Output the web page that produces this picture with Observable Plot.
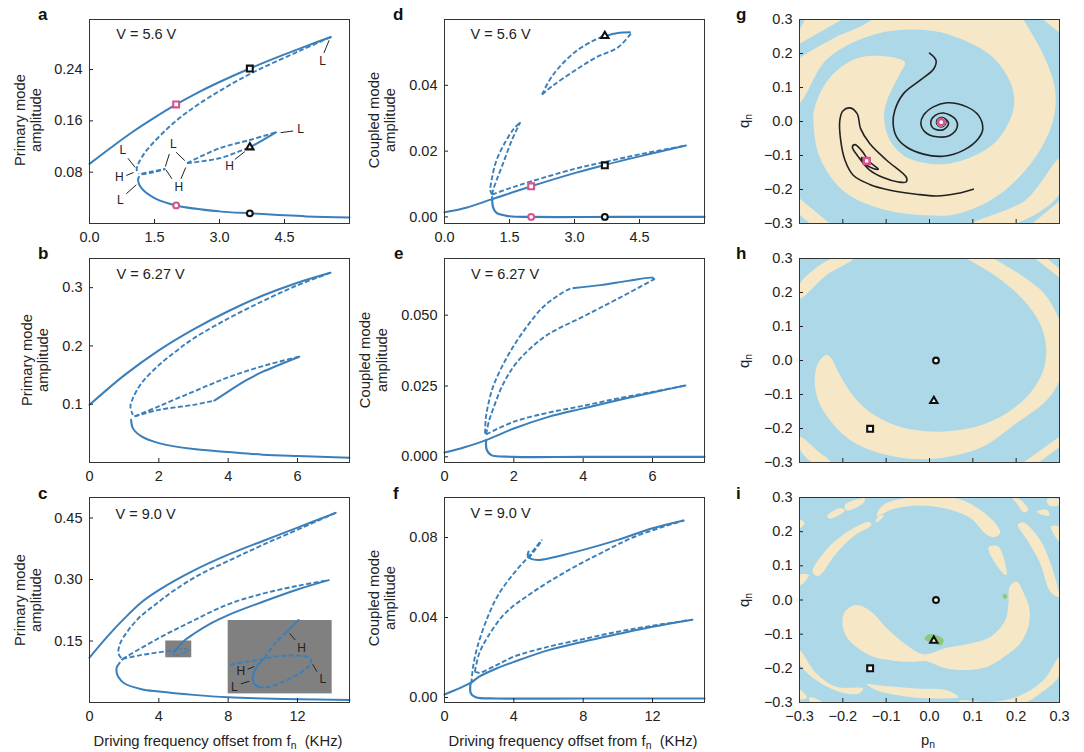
<!DOCTYPE html>
<html><head><meta charset="utf-8">
<script src="https://cdn.jsdelivr.net/npm/d3@7"></script>
<script src="https://cdn.jsdelivr.net/npm/@observablehq/plot@0.6"></script>
<style>
html,body{margin:0;padding:0;background:#fff}
#page{position:relative;width:1084px;height:752px;overflow:hidden;font-family:"Liberation Sans",Arial,sans-serif;color:#222}
#page svg{position:absolute;background:transparent;overflow:visible}
.t{position:absolute;white-space:nowrap;font-size:14.8px;line-height:15px;transform:translate(-50%,-50%)}
.r{transform:translate(-50%,-50%) rotate(-90deg)}
.b{font-weight:700;font-size:17px;color:#111;transform:translate(0,-50%)}
.t sub{font-size:70%;line-height:0;vertical-align:-0.3em}
</style></head><body><div id="page"></div>
<script>
// ---------- panel a ----------
const aUpper=[[0,.093],[.5,.1185],[1,.143],[1.5,.165],[2,.1856],[2.5,.2041],[3,.2206],[3.7,.2416],[4.5,.2636],[5,.2765],[5.57,.2907]];
const aUpperDash=[[5.57,.2907],[4.87,.2697],[4.1,.2462],[3.7,.233],[3.33,.2195],[2.71,.1945],[2.4,.1805],[2.136,.1675],[1.79,.1475],[1.326,.1147],[1.133,.094],[1.09,.0836],[1.14,.0775]];
const aMidDash1=[[1.2,.0765],[1.45,.0795],[1.75,.0847]];
const aMidDash2=[[1.2,.0775],[1.45,.081],[1.75,.0855]];
const aLoopTop=[[2.25,.094],[3,.1173],[3.7,.1302],[4.3,.142]];
const aLoopLow=[[2.25,.094],[3,.1017],[3.5,.1136],[3.7,.1188]];
const aLoopSolid=[[3.7,.1188],[4,.13],[4.3,.142]];
const aLower=[[1.14,.0725],[1.12,.0675],[1.2,.055],[1.5,.0396],[2,.0282],[3,.0189],[3.7,.0158],[5,.0111],[6,.0095]];
const aLeaders=[[.887,.1017,1.056,.0872],[.848,.0748,1.018,.0795],[.848,.0463,1.08,.0603],[1.843,.1085,1.75,.0888],[2,.111,2.2,.098],[1.765,.0836,1.904,.0696],[2.22,.0872,2.11,.0696],[3.354,.1,3.585,.112],[4.41,.1416,4.7,.1442],[5.41,.2659,5.53,.2856]];
const aTags=[["L",.77,.1147],["H",.69,.0722],["L",.71,.037],["L",1.935,.1235],["H",2.06,.0567],["H",3.23,.0898],["L",4.87,.1468],["L",5.38,.2524]];
// ---------- panel d ----------
const dLow=[[1.1,.006],[1.12,.003],[1.2,.0012],[1.5,.0002],[2,0],[4,0],[6,0]];
const dSolid=[[0,.0014],[.5,.0028],[1.1,.0054],[2,.0093],[3,.0133],[3.7,.0158],[4.5,.0184],[5.57,.0217]];
const dDash=[[1.1,.0068],[1.5,.0087],[2,.0108],[3,.0146],[3.7,.0167],[4.5,.019],[5.57,.0217]];
const dLoop1L=[[1.1,.0068],[1.06,.0081],[1.1,.0121],[1.2,.0172],[1.4,.0227],[1.6,.0268],[1.75,.0288]];
const dLoop1R=[[1.1,.0068],[1.12,.0081],[1.2,.0111],[1.35,.0162],[1.55,.0232],[1.75,.0288]];
const dLoop2T=[[2.25,.0372],[2.5,.0431],[3,.05],[3.5,.054],[3.7,.055]];
const dLoop2S=[[3.7,.055],[4,.0559],[4.28,.0561]];
const dLoop2L=[[2.25,.0372],[2.5,.0399],[3,.0444],[3.5,.0485],[4,.0515],[4.3,.0557]];
// ---------- panel b ----------
const bUpper=[[0,.0989],[1,.1495],[2,.1925],[3,.2285],[4,.2595],[5,.2865],[6,.3085],[6.95,.3256]];
const bUpperDash=[[6.95,.3256],[6,.304],[5,.277],[4,.247],[3,.2128],[2.5,.191],[2,.167],[1.5,.136],[1.25,.11],[1.18,.096],[1.25,.0818]];
const bMidTop=[[1.3,.079],[2,.0965],[3,.1217],[4,.146],[5,.1655],[6.05,.1815]];
const bMidLow=[[1.3,.079],[2,.0903],[3,.0989],[3.6,.1063]];
const bMidSolid=[[3.6,.1063],[4,.1217],[4.5,.1404],[5,.1558],[6.05,.1815]];
const bLower=[[1.2,.0732],[1.25,.059],[1.5,.0447],[2,.0333],[3,.023],[4,.018],[5,.0134],[6,.011],[7.5,.0083]];
// ---------- panel e ----------
const eLow=[[1.2,.0059],[1.22,.0024],[1.35,.0006],[2,0],[4,0],[7.5,0]];
const eSolid=[[0,.0015],[.6,.0035],[1.2,.0059],[2,.01],[3,.0141],[4,.0171],[5,.02],[6,.0227],[6.95,.0252]];
const eDash=[[1.2,.0079],[2,.0124],[3,.0156],[4,.018],[5,.0206],[6,.0229],[6.95,.0252]];
const eOuter=[[1.17,.0082],[1.19,.0135],[1.25,.0178],[1.4,.0247],[1.8,.0351],[2.3,.0447],[2.9,.0535],[3.6,.0592],[3.75,.0596]];
const eOuterSolid=[[3.75,.0596],[4.5,.0606],[5.3,.0621],[6,.0632],[6.05,.0627]];
const eInner=[[1.2,.0079],[1.28,.0125],[1.4,.0168],[1.7,.0259],[2.1,.0335],[2.9,.0425],[4,.0495],[5,.0558],[6.05,.0627]];
// ---------- panel c ----------
const cUpper=[[0,.1095],[1,.1595],[2,.2045],[3,.2445],[4,.2741],[6,.3215],[8,.3605],[10,.394],[12,.4265],[14.2,.4625]];
const cUpperDash=[[14.2,.4625],[12,.4215],[10,.3845],[8.3,.351],[6.38,.3125],[4.85,.2725],[3.88,.2416],[2.92,.209],[2.25,.1768],[1.77,.1443],[1.67,.12],[1.87,.1062]];
const cMidTop=[[1.9,.1062],[4,.157],[6,.2],[8,.2395],[10,.2655],[12,.2845],[13.8,.2984]];
const cMidSolid=[[4.9,.124],[5.4,.1484],[6,.167],[7,.193],[8,.2133],[10,.2457],[12,.2757],[13.8,.2984]];
const cMidLow=[[1.9,.1062],[3,.116],[4,.1224],[5,.128]];
const cLoop=[[5,.128],[5.23,.1305],[5.71,.1297],[5.33,.1184],[4.96,.1143],[4.79,.12],[4.9,.124]];
const cLower=[[1.6,.0885],[1.55,.0794],[1.65,.0632],[2,.047],[3,.0324],[4,.0267],[6,.0186],[8,.0129],[12,.008],[15,.0064]];
const cFoldDash=[[1.6,.0885],[1.9,.1062]];
const cSmallBox=[[4.4,.109,5.9,.15]];
const cInsetBox=[[8,.021,14,.2]];
const cInSolid1=[[12.06,.2011],[11.38,.1727]];
const cInDash1=[[11.38,.1727],[10.71,.1443],[10.04,.1062]];
const cInSolid2=[[10.04,.1062],[9.65,.0876],[9.42,.0592],[9.5,.0454],[9.75,.0381]];
const cInDash2=[[9.75,.0381],[10.13,.0365],[11,.047],[11.96,.0673],[12.63,.0876],[12.79,.1013],[12.63,.1103],[11.96,.1143],[11,.1135],[10.04,.1062],[8.88,.0981],[7.98,.0916]];
const cLeaders=[[11.54,.1687,11.87,.1524],[12.87,.0932,13.12,.0754],[9.12,.0811,9.5,.0876],[8.73,.0454,9.23,.0519]];
const cTags=[["H",12.23,.1322],["L",13.46,.0575],["H",8.73,.0762],["L",8.35,.0373]];
// ---------- panel f ----------
const fLow=[[1.5,.007],[1.52,.002],[1.8,.0001],[3,-.0005],[8,-.0005],[15,-.0005]];
const fSolid=[[0,.0015],[1.5,.0073],[2,.0104],[3,.0145],[4,.0178],[6,.0237],[8,.0279],[10,.0317],[12,.0354],[14.3,.0389]];
const fDash=[[1.75,.0129],[2,.0124],[3,.0162],[4,.0204],[6,.0254],[8,.0292],[10,.0329],[12,.0359],[14.3,.0389]];
const fOuter=[[1.55,.007],[1.65,.0154],[1.9,.0254],[2.5,.0404],[3.1,.0513],[4,.0621],[4.85,.0705],[5.6,.0788]];
const fInner=[[1.75,.0129],[2,.022],[2.5,.0304],[3.5,.0421],[5,.0521],[7,.0629],[9,.0721],[11,.0805],[13.8,.0885]];
const fTop=[[13.8,.0885],[12,.0846],[10,.0788],[8,.0738],[6.5,.0705],[5.5,.0688],[5,.0693],[4.8,.0708],[4.85,.073]];
const fTip=[[4.85,.0696],[5.2,.0735],[5.65,.0788]];
// ---------- panel g ----------
const gSpiralTan=[[-.057,.174],[-.098,.191],[-.168,.185],[-.23,.129],[-.265,.041],[-.267,-.018],[-.253,-.106],[-.2,-.203],[-.114,-.256],[-.01,-.276],[.066,-.271],[.158,-.218],[.244,-.106],[.285,.003],[.29,.091],[.269,.179],[.216,.3],[.174,.371],[0,.415],[-.091,.379],[-.133,.3],[-.218,.247],[-.299,.188],[-.345,.15],[-.345,.003],[-.299,.053],[-.235,.185],[-.119,.259],[.001,.268],[.07,.244],[.147,.188],[.191,.1],[.193,.032],[.156,-.056],[.094,-.106],[.024,-.126],[-.052,-.106],[-.091,-.056],[-.105,.012],[-.098,.062],[-.068,.141]];
const gCornerTL=[[-.3,.268],[-.288,.3],[-.202,.3],[-.3,.229]];
const gCornerTR=[[.262,.3],[.302,.259],[.302,.3]];
const gBandBR=[[.302,-.109],[.221,-.232],[.101,-.3],[.198,-.3],[.302,-.209]];
const gCornerBR=[[.302,-.232],[.237,-.3],[.302,-.3]];
const gBandBL=[[-.302,-.224],[-.23,-.3],[-.276,-.3],[-.302,-.271]];
const gSpiral1=[[0,.201],[.015,.18],[.01,.155],[-.022,.121],[-.06,.082],[-.08,.033],[-.084,-.006],[-.076,-.045],[-.053,-.075],[-.014,-.096],[.032,-.102],[.078,-.085],[.113,-.05],[.123,-.021],[.113,.018],[.086,.043],[.04,.055],[.009,.043],[-.014,.018],[-.02,-.006],[-.01,-.031],[.017,-.045],[.047,-.041],[.064,-.016],[.059,.008],[.032,.025],[.013,.018],[.003,-.001],[.01,-.021],[.032,-.024],[.044,-.006],[.032,.011],[.018,.005],[.018,-.008],[.027,-.009],[.027,-.002]];
const gSpiral2=[[.101,-.199],[.063,-.212],[.017,-.219],[-.03,-.214],[-.091,-.202],[-.138,-.185],[-.176,-.158],[-.195,-.114],[-.205,-.055],[-.207,.003],[-.2,.031],[-.184,.04],[-.167,.023],[-.159,-.021],[-.138,-.065],[-.099,-.114],[-.053,-.165],[-.054,-.178],[-.072,-.178],[-.107,-.165],[-.138,-.143],[-.164,-.104],[-.178,-.075],[-.172,-.068],[-.157,-.085],[-.138,-.119],[-.118,-.14],[-.13,-.138],[-.149,-.124],[-.157,-.106],[-.145,-.114]];
// ---------- panel h ----------
const hCrescent=[[-.238,.016],[-.257,-.008],[-.265,-.057],[-.257,-.116],[-.23,-.175],[-.184,-.233],[-.114,-.273],[-.03,-.29],[.047,-.282],[.124,-.253],[.201,-.184],[.271,-.116],[.3,-.057],[.309,.011],[.309,.08],[.271,.187],[.217,.246],[.148,.3],[.109,.33],[.047,.33],[.086,.3],[.155,.246],[.217,.178],[.255,.109],[.269,.041],[.263,-.028],[.232,-.096],[.178,-.155],[.109,-.194],[.032,-.209],[-.037,-.204],[-.099,-.18],[-.153,-.136],[-.191,-.077],[-.215,-.023],[-.226,.006]];
const hTL=[[-.3,.222],[-.268,.266],[-.222,.3],[-.176,.3],[-.238,.251],[-.3,.182]];
const hTR=[[.244,.3],[.3,.244],[.3,.27],[.271,.3]];
const hBR=[[.3,-.224],[.217,-.3],[.252,-.3],[.3,-.255]];
const hBL=[[-.3,-.224],[-.261,-.263],[-.228,-.3],[-.269,-.3],[-.3,-.258]];
// ---------- panel i ----------
const iCrescent=[[-.172,-.015],[-.195,-.034],[-.201,-.068],[-.191,-.108],[-.164,-.142],[-.13,-.166],[-.091,-.176],[-.045,-.181],[-.007,-.179],[.032,-.198],[.078,-.205],[.132,-.196],[.178,-.161],[.209,-.127],[.228,-.078],[.231,-.029],[.221,.01],[.201,.054],[.185,.039],[.182,-.01],[.175,-.059],[.14,-.108],[.094,-.127],[.04,-.14],[-.014,-.159],[-.053,-.132],[-.099,-.083],[-.13,-.039],[-.153,-.02]];
const iTopArc=[[-.121,.245],[-.117,.264],[-.099,.284],[-.06,.297],[.009,.301],[.07,.295],[.117,.264],[.155,.22],[.163,.196],[.151,.184],[.132,.191],[.094,.24],[.032,.269],[-.037,.276],[-.084,.266],[-.111,.25]];
const iLeftArc=[[-.27,.083],[-.238,.147],[-.199,.191],[-.141,.228],[-.134,.22],[-.176,.186],[-.215,.137],[-.257,.07]];
const iRightArc=[[.204,.22],[.217,.227],[.255,.176],[.279,.108],[.3,.015],[.3,.008],[.279,.024],[.255,.108],[.225,.176]];
const iMidArc=[[.136,.154],[.158,.157],[.178,.088],[.177,.073],[.163,.088]];
const iBotLeft=[[-.3,-.147],[-.261,-.215],[-.215,-.254],[-.153,-.259],[-.164,-.274],[-.207,-.269],[-.261,-.235],[-.3,-.186]];
const iBotMid=[[-.144,-.247],[-.115,-.25],[-.03,-.259],[.04,-.264],[.067,-.284],[.04,-.288],[-.045,-.284],[-.122,-.264]];
const iBotRight=[[.3,-.166],[.263,-.235],[.201,-.284],[.14,-.298],[.07,-.295],[.07,-.301],[.217,-.301],[.255,-.274],[.3,-.22]];
const iBits=[
 [[-.124,.228],[-.118,.245],[-.105,.247],[-.118,.23]],
 [[-.236,.245],[-.207,.269],[-.195,.262],[-.23,.238]],
 [[-.195,.279],[-.149,.298],[-.153,.284],[-.191,.262]],
 [[-.3,.235],[-.288,.225],[-.3,.21]],
 [[-.3,.073],[-.278,.073],[-.3,.041]],
 [[.19,.301],[.209,.294],[.228,.264],[.218,.256],[.201,.284]],
 [[.248,.259],[.271,.264],[.277,.247],[.255,.252]],
 [[.271,.294],[.3,.294],[.3,.279],[.277,.276]],
 [[.28,.215],[.3,.215],[.3,.171]],
 [[-.3,-.262],[-.283,-.285],[-.3,-.29]],
 [[-.276,-.284],[-.249,-.298],[-.276,-.298]]
];
const iGreen1=[[-.012,-.113],[0,-.1],[.032,-.115],[.028,-.132],[.009,-.127],[-.007,-.119]];
const iGreen2=[[.171,.018],[.18,.012],[.174,.003],[.169,.01]];
// ---------- styles and helpers ----------
const PINK="#D2568E", BLUE="#3A7FBA", BLUEBG="#ADD8E8", TAN="#F6E8C6", GREEN="#8CC878", GREY="#808080", DARK="#222";
const ap=d=>d[0], bp=d=>d[1];
const solid=(p,o={})=>Plot.line(p,{x:ap,y:bp,stroke:BLUE,strokeWidth:2,curve:"catmull-rom",...o});
const dash=(p,o={})=>Plot.line(p,{x:ap,y:bp,stroke:BLUE,strokeWidth:1.9,strokeLinecap:"butt",strokeDasharray:"5,2.4",curve:"catmull-rom",...o});
const poly=(p,fill,curve="catmull-rom-closed")=>Plot.line(p,{x:ap,y:bp,fill,stroke:"none",curve,clip:true});
const RADII={square:3.3,circle:2.9,triangle:2.7};
const mark=(x,y,symbol,stroke,r=RADII[symbol],sw=2.1)=>Plot.dot([[x,y]],{x:ap,y:bp,symbol,r,fill:"#fff",stroke,strokeWidth:sw});
const leaders=l=>Plot.link(l,{x1:d=>d[0],y1:d=>d[1],x2:d=>d[2],y2:d=>d[3],stroke:DARK,strokeWidth:1});
const tags=t=>Plot.text(t,{x:d=>d[1],y:d=>d[2],text:d=>d[0],fontSize:12,fill:DARK});
const vlabel=(s,x,y)=>Plot.text([s],{x:()=>x,y:()=>y,text:d=>d,textAnchor:"start",fontSize:14.5,fill:DARK});
const page=document.getElementById("page");
function panel(left,top,h,xd,yd,xt,yt,fx,fy,marks){
  const mL=60,mT=4,mR=16,mB=30,w=260;
  const svg=Plot.plot({width:mL+w+mR,height:mT+h+mB,marginLeft:mL,marginRight:mR,marginTop:mT,marginBottom:mB,
    style:{fontFamily:"'Liberation Sans',Arial,sans-serif",fontSize:"14.5px",color:DARK,background:"transparent",overflow:"visible"},
    x:{domain:xd},y:{domain:yd},
    marks:[...marks,
      Plot.axisX({ticks:xt,tickFormat:fx,tickSize:-4,tickPadding:12,label:null,anchor:"bottom",stroke:DARK}),
      Plot.axisY({ticks:yt,tickFormat:fy,tickSize:-4,tickPadding:11,label:null,anchor:"left",stroke:DARK}),
      Plot.frame({stroke:"#333",strokeWidth:1})]});
  svg.style.left=(left-mL)+"px";svg.style.top=(top-mT)+"px";svg.style.maxWidth="none";svg.style.height=(mT+h+mB)+"px";
  page.appendChild(svg);
}
const f0=d3.format("d"),f1=d3.format(".1f"),f2=d3.format(".2f"),f3=d3.format(".3f");
const none=()=>"";
const X=[0,1.5,3,4.5],R1=[19,258,497],Hh=[204,204,205],C=[89,444,799];
const PQ=[-.3,-.2,-.1,0,.1,.2,.3];
// a
panel(C[0],R1[0],Hh[0],[0,6],[0,.318],X,[.08,.16,.24],f1,f2,[
  solid(aUpper),dash(aUpperDash),dash(aMidDash1),dash(aMidDash2),dash(aLoopTop),dash(aLoopLow),solid(aLoopSolid),solid(aLower),
  leaders(aLeaders),tags(aTags),vlabel("V = 5.6 V",.617,.2944),
  mark(3.7,.2416,"square","#111"),mark(2,.1856,"square",PINK),mark(3.7,.1188,"triangle","#111"),mark(3.7,.0158,"circle","#111"),mark(2,.0282,"circle",PINK)]);
// d
panel(C[1],R1[0],Hh[0],[0,6],[-.002,.06],X,[0,.02,.04],f1,f2,[
  solid(dLow,{strokeWidth:2.2}),solid(dSolid),dash(dDash),dash(dLoop1L),dash(dLoop1R),dash(dLoop2T),solid(dLoop2S),dash(dLoop2L),
  vlabel("V = 5.6 V",.6,.0555),
  mark(3.7,.0157,"square","#111"),mark(2,.0093,"square",PINK),mark(3.7,.055,"triangle","#111"),mark(3.7,0,"circle","#111"),mark(2,0,"circle",PINK)]);
// g
panel(C[2],R1[0],Hh[0],[-.3,.3],[-.3,.3],PQ,PQ,none,f1,[
  Plot.frame({fill:BLUEBG,stroke:"none"}),poly(gSpiralTan,TAN),
  poly(gCornerTL,TAN,"linear-closed"),poly(gCornerTR,TAN,"linear-closed"),poly(gBandBR,TAN),poly(gCornerBR,TAN,"linear-closed"),poly(gBandBL,TAN,"linear-closed"),
  Plot.line(gSpiral1,{x:ap,y:bp,stroke:"#222",strokeWidth:1.6,curve:"catmull-rom"}),
  Plot.line(gSpiral2,{x:ap,y:bp,stroke:"#222",strokeWidth:1.6,curve:"catmull-rom"}),
  mark(.027,-.002,"circle","#222",5,1),mark(.027,-.002,"circle",PINK,3.2,2.6),
  mark(-.145,-.116,"square",PINK,3.3,2.6)]);
// b
panel(C[0],R1[1],Hh[1],[0,7.5],[0,.35],[0,2,4,6],[.1,.2,.3],f0,f1,[
  solid(bUpper),dash(bUpperDash),dash(bMidTop),dash(bMidLow),solid(bMidSolid),solid(bLower),vlabel("V = 6.27 V",.78,.3226)]);
// e
panel(C[1],R1[1],Hh[1],[0,7.5],[-.002,.07],[0,2,4,6],[0,.025,.05],f0,f3,[
  solid(eLow,{strokeWidth:2.2}),solid(eSolid),dash(eDash),dash(eOuter),solid(eOuterSolid),dash(eInner),vlabel("V = 6.27 V",.763,.0645)]);
// h
panel(C[2],R1[1],Hh[1],[-.3,.3],[-.3,.3],PQ,PQ,none,f1,[
  Plot.frame({fill:BLUEBG,stroke:"none"}),poly(hCrescent,TAN),poly(hTL,TAN),poly(hTR,TAN,"linear-closed"),poly(hBR,TAN,"linear-closed"),poly(hBL,TAN),
  mark(.015,0,"circle","#111"),mark(.01,-.119,"triangle","#111"),mark(-.137,-.201,"square","#111")]);
// c
const rect=(r,fill)=>Plot.rect(r,{x1:d=>d[0],y1:d=>d[1],x2:d=>d[2],y2:d=>d[3],fill});
panel(C[0],R1[2],Hh[2],[0,15],[0,.5],[0,4,8,12],[.15,.3,.45],f0,f2,[
  rect(cSmallBox,GREY),rect(cInsetBox,GREY),
  solid(cUpper),dash(cUpperDash),dash(cMidTop),solid(cMidSolid),dash(cMidLow),dash(cLoop,{strokeWidth:1.4,strokeDasharray:"2.5,1.5"}),solid(cLower),dash(cFoldDash),
  solid(cInSolid1),dash(cInDash1),solid(cInSolid2),dash(cInDash2),leaders(cLeaders),tags(cTags),vlabel("V = 9.0 V",1.5,.46)]);
// f
panel(C[1],R1[2],Hh[2],[0,15],[-.0025,.1],[0,4,8,12],[0,.04,.08],f0,f2,[
  solid(fLow,{strokeWidth:2.2}),solid(fSolid),dash(fDash),dash(fOuter),dash(fInner),solid(fTop),dash(fTip),vlabel("V = 9.0 V",1.5,.0921)]);
// i
panel(C[2],R1[2],Hh[2],[-.3,.3],[-.3,.3],PQ,PQ,f1,f1,[
  Plot.frame({fill:BLUEBG,stroke:"none"}),poly(iCrescent,TAN),poly(iTopArc,TAN),poly(iLeftArc,TAN),poly(iRightArc,TAN),poly(iMidArc,TAN),poly(iBotLeft,TAN),poly(iBotMid,TAN),poly(iBotRight,TAN),
  ...iBits.map(b=>poly(b,TAN)),poly(iGreen1,GREEN),poly(iGreen2,GREEN),
  mark(.015,0,"circle","#111"),mark(.01,-.119,"triangle","#111"),mark(-.137,-.2,"square","#111")]);
// ---------- outer labels ----------
function label(html,x,y,cls=""){const d=document.createElement("div");d.className="t "+cls;d.innerHTML=html;d.style.left=x+"px";d.style.top=y+"px";page.appendChild(d);}
[["a",38,14],["b",38,253],["c",38,493],["d",393,14],["e",394,253],["f",393,493],["g",736,14],["h",736,253],["i",736,493]].forEach(([s,x,y])=>label(s,x,y,"b"));
[[20,36,120,"Primary mode"],[27,43,360,"Primary mode"],[20,36,600,"Primary mode"],[374,390,120,"Coupled mode"],[365,382,360,"Coupled mode"],[374,390,598,"Coupled mode"]].forEach(([a,b,y,s])=>{label(s,a,y,"r");label("amplitude",b,y,"r");});
[121,361,600].forEach(y=>label("q<sub>n</sub>",744,y,"r"));
label("p<sub>n</sub>",928,740);
label("Driving frequency offset from f<sub>n</sub> &nbsp;(KHz)",218,741);
label("Driving frequency offset from f<sub>n</sub> &nbsp;(KHz)",573,741);
</script></body></html>
